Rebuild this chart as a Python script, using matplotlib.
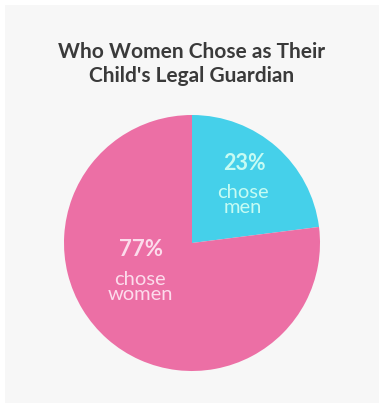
import matplotlib.pyplot as plt
from matplotlib.patches import Rectangle

# data
labels = ["chose men", "chose women"]
shares = [23, 77]
colors = ["#45d0ea", "#ec6fa5"]
text_colors = ["#c6fbf3", "#fcdcec"]
title = "Who Women Chose as Their\nChild's Legal Guardian"

W, H = 384, 408
fig = plt.figure(figsize=(W / 100, H / 100), dpi=100)
fig.patch.set_facecolor("white")

# light grey panel inside a thin white border
bg = fig.add_axes([0, 0, 1, 1])
bg.set_xlim(0, W)
bg.set_ylim(H, 0)
bg.axis("off")
bg.add_patch(Rectangle((5, 5), W - 10, H - 10, facecolor="#f7f7f7", edgecolor="none"))

bg.text(192, 64, title, ha="center", va="center", fontsize=15, fontweight="bold",
        family="Lato", color="#3a3a3a", linespacing=1.3)

# pie: center (192, 243), radius 128 px
cx, cy, r = 192, 243, 128
ax = fig.add_axes([(cx - r) / W, 1 - (cy + r) / H, 2 * r / W, 2 * r / H])
ax.pie(shares, colors=colors, startangle=90, counterclock=False,
       wedgeprops=dict(linewidth=0), radius=1.0)
ax.set_xlim(-1, 1)
ax.set_ylim(-1, 1)
ax.set_aspect("auto")
ax.axis("off")

# overlay for the wedge labels (pixel positions)
top = fig.add_axes([0, 0, 1, 1])
top.set_xlim(0, W)
top.set_ylim(H, 0)
top.axis("off")

top.text(244, 164, f"{shares[0]}%", ha="center", va="center", fontsize=15.5,
         fontweight="bold", family="Lato", color=text_colors[0])
top.text(243, 200, "chose\nmen", ha="center", va="center", fontsize=14.5,
         family="Lato", color=text_colors[0], linespacing=0.9)

top.text(141, 249, f"{shares[1]}%", ha="center", va="center", fontsize=16,
         fontweight="bold", family="Lato", color=text_colors[1])
top.text(140, 287, "chose\nwomen", ha="center", va="center", fontsize=14.5,
         family="Lato", color=text_colors[1], linespacing=0.9)

fig.savefig("out.png", dpi=100, facecolor=fig.get_facecolor())
